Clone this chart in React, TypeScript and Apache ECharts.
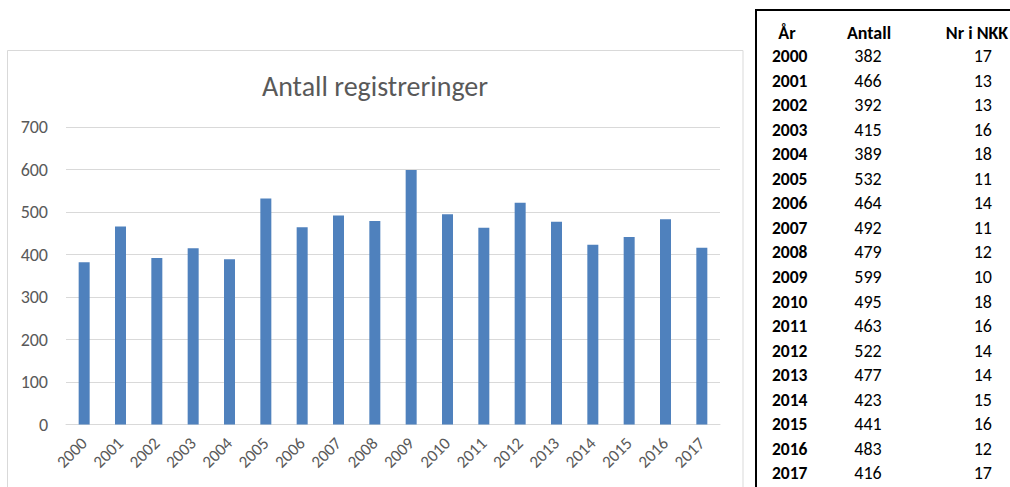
import React, { useEffect, useRef } from "react";
import * as echarts from "echarts";

const years = ["2000","2001","2002","2003","2004","2005","2006","2007","2008","2009","2010","2011","2012","2013","2014","2015","2016","2017"];
const antall = [382,466,392,415,389,532,464,492,479,599,495,463,522,477,423,441,483,416];
const nrINKK = [17,13,13,16,18,11,14,11,12,10,18,16,14,14,15,16,12,17];
const title = "Antall registreringer";
const tableHeaders = ["År", "Antall", "Nr i NKK"];

const FONT = "Carlito, Lato, 'Noto Sans', sans-serif";
const GREY = "#595959";

export default function App() {
  const ref = useRef<HTMLDivElement>(null);
  useEffect(() => {
    if (!ref.current) return;
    const chart = echarts.init(ref.current, null, { renderer: "svg" });

    const rowY = (i: number) => 56 + i * 24.55;
    const tableTexts: any[] = [];
    tableTexts.push({ type: "text", x: 787, y: 33, style: { text: tableHeaders[0], font: `bold 18px ${FONT}`, fill: "#000", align: "center", verticalAlign: "middle" } });
    tableTexts.push({ type: "text", x: 869, y: 33, style: { text: tableHeaders[1], font: `bold 18px ${FONT}`, fill: "#000", align: "center", verticalAlign: "middle" } });
    tableTexts.push({ type: "text", x: 977, y: 33, style: { text: tableHeaders[2], font: `bold 18px ${FONT}`, fill: "#000", align: "center", verticalAlign: "middle" } });
    years.forEach((y, i) => {
      tableTexts.push({ type: "text", x: 772, y: rowY(i), style: { text: y, font: `bold 17.5px ${FONT}`, fill: "#000", align: "left", verticalAlign: "middle" } });
      tableTexts.push({ type: "text", x: 868, y: rowY(i), style: { text: String(antall[i]), font: `18px ${FONT}`, fill: "#000", align: "center", verticalAlign: "middle" } });
      tableTexts.push({ type: "text", x: 992, y: rowY(i), style: { text: String(nrINKK[i]), font: `18px ${FONT}`, fill: "#000", align: "right", verticalAlign: "middle" } });
    });

    chart.setOption({
      animation: false,
      backgroundColor: "#fff",
      grid: { left: 66, right: 290, top: 127, bottom: 62.5, containLabel: false },
      xAxis: {
        type: "category",
        data: years,
        axisLine: { show: true, lineStyle: { color: "#D9D9D9", width: 1 } },
        axisTick: { show: false },
        axisLabel: { rotate: 45, margin: 16, color: GREY, fontSize: 17, fontFamily: FONT, interval: 0 },
      },
      yAxis: {
        type: "value",
        min: 0,
        max: 700,
        interval: 100,
        axisLine: { show: false },
        axisTick: { show: false },
        splitLine: { lineStyle: { color: "#D9D9D9", width: 1 } },
        axisLabel: { color: GREY, fontSize: 18, fontFamily: FONT, margin: 18 },
      },
      series: [
        {
          type: "bar",
          data: antall,
          barWidth: 11,
          itemStyle: { color: "#4F81BD" },
        },
      ],
      graphic: [
        { type: "rect", shape: { x: 7.5, y: 50.5, width: 735.5, height: 460 }, style: { fill: "none", stroke: "#D9D9D9", lineWidth: 1 }, z: -1 },
        { type: "text", x: 375, y: 86, style: { text: title, font: `28px ${FONT}`, fill: GREY, align: "center", verticalAlign: "middle" } },
        { type: "rect", shape: { x: 756, y: 10, width: 300, height: 500 }, style: { fill: "none", stroke: "#000", lineWidth: 2 } },
        ...tableTexts,
      ],
    });
    return () => chart.dispose();
  }, []);
  return (
    <div
      ref={ref}
      style={{ position: "absolute", left: 0, top: 0, width: 1010, height: 487 }}
    />
  );
}
